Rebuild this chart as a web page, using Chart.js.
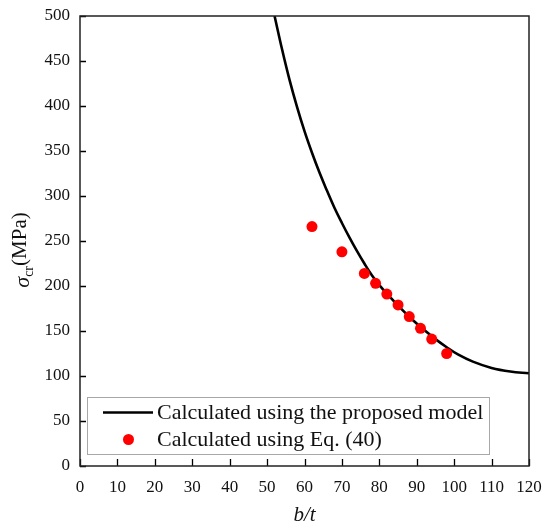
<!DOCTYPE html>
<html>
<head>
<meta charset="utf-8">
<script src="https://cdn.jsdelivr.net/npm/chart.js@4/dist/chart.umd.min.js"></script>
<style>
  html, body { margin: 0; padding: 0; background: #fff; }
  #wrap { width: 544px; height: 531px; position: relative; }
</style>
</head>
<body>
<div id="wrap"><canvas id="c" width="544" height="531"></canvas></div>
<script>
// Curve: "Calculated using the proposed model"
const curveBt    = [52, 54, 56, 58, 60, 62, 64, 66, 68, 70, 72, 74, 76, 78, 80, 83, 86, 89, 92, 95, 98, 101, 105, 110, 115, 120];
const curveSigma = [500, 463, 429, 399, 372, 348, 326, 306, 287, 270, 254, 239, 225, 212, 201, 187, 174, 162, 151, 141, 132, 124, 116, 109, 105, 103];
// Points: "Calculated using Eq. (40)"
const pointBt    = [62, 70, 76, 79, 82, 85, 88, 91, 94, 98];
const pointSigma = [266, 238, 214, 203, 191, 179, 166, 153, 141, 125];
// Axis ticks
const xTicks = [0, 10, 20, 30, 40, 50, 60, 70, 80, 90, 100, 110, 120];
const yTicks = [0, 50, 100, 150, 200, 250, 300, 350, 400, 450, 500];
const legendLabels = ['Calculated using the proposed model', 'Calculated using Eq. (40)'];
const xTitle = 'b/t';

const SERIF = '"Liberation Serif", "Times New Roman", serif';

const framePlugin = {
  id: 'frame',
  afterDraw(chart) {
    const ctx = chart.ctx, a = chart.chartArea;
    const xs = chart.scales.x, ys = chart.scales.y;
    ctx.save();
    // inward ticks
    ctx.strokeStyle = '#000';
    ctx.lineWidth = 1.3;
    ctx.beginPath();
    xTicks.forEach(v => {
      const px = Math.round(xs.getPixelForValue(v)) + 0.5;
      ctx.moveTo(px, a.bottom); ctx.lineTo(px, a.bottom - 7);
    });
    yTicks.forEach(v => {
      const py = Math.round(ys.getPixelForValue(v)) + 0.5;
      ctx.moveTo(a.left, py); ctx.lineTo(a.left + 6, py);
    });
    ctx.stroke();
    // frame
    ctx.lineWidth = 1.5;
    ctx.strokeStyle = '#222';
    ctx.strokeRect(a.left, a.top, a.right - a.left, a.bottom - a.top);

    // legend
    const lx = 87, ly = 397, lw = 402, lh = 57;
    ctx.fillStyle = '#fff';
    ctx.fillRect(lx, ly, lw, lh);
    ctx.strokeStyle = '#a8a8a8';
    ctx.lineWidth = 1;
    ctx.strokeRect(lx + 0.5, ly + 0.5, lw, lh);
    ctx.strokeStyle = '#000';
    ctx.lineWidth = 2.6;
    ctx.beginPath();
    ctx.moveTo(103, 412.5); ctx.lineTo(153, 412.5);
    ctx.stroke();
    ctx.fillStyle = '#ff0000';
    ctx.beginPath();
    ctx.arc(128.5, 439.5, 5.5, 0, Math.PI * 2);
    ctx.fill();
    ctx.fillStyle = '#111';
    ctx.font = '22px ' + SERIF;
    ctx.textBaseline = 'middle';
    ctx.textAlign = 'left';
    ctx.fillText(legendLabels[0], 157, 413);
    ctx.fillText(legendLabels[1], 157, 440);

    // x title
    ctx.font = 'italic 21px ' + SERIF;
    ctx.textAlign = 'center';
    ctx.fillText(xTitle, (a.left + a.right) / 2, 515);

    // y title (rotated) sigma_cr (MPa)
    ctx.translate(22, 250);
    ctx.rotate(-Math.PI / 2);
    ctx.textAlign = 'left';
    ctx.textBaseline = 'alphabetic';
    const sig = 'σ', sub = 'cr', unit = '(MPa)';
    ctx.font = 'italic 22px ' + SERIF;
    const w1 = ctx.measureText(sig).width;
    ctx.font = '14px ' + SERIF;
    const w2 = ctx.measureText(sub).width;
    ctx.font = '21px ' + SERIF;
    const w3 = ctx.measureText(unit).width;
    let x0 = -(w1 + w2 + w3) / 2;
    ctx.font = 'italic 22px ' + SERIF;
    ctx.fillText(sig, x0, 7);
    ctx.font = '14px ' + SERIF;
    ctx.fillText(sub, x0 + w1, 11);
    ctx.font = '21px ' + SERIF;
    ctx.fillText(unit, x0 + w1 + w2, 4);
    ctx.restore();
  }
};

function zeroPad(s) { s.paddingLeft = 0; s.paddingRight = 0; s.paddingTop = 0; s.paddingBottom = 0; }

new Chart(document.getElementById('c'), {
  type: 'scatter',
  data: {
    datasets: [
      {
        type: 'line',
        label: legendLabels[0],
        data: curveBt.map((x, i) => ({ x, y: curveSigma[i] })),
        borderColor: '#000',
        borderWidth: 2.6,
        pointRadius: 0,
        tension: 0.4,
        fill: false,
        order: 2
      },
      {
        label: legendLabels[1],
        data: pointBt.map((x, i) => ({ x, y: pointSigma[i] })),
        backgroundColor: '#ff0000',
        borderColor: '#ff0000',
        borderWidth: 0,
        pointRadius: 5.5,
        order: 1
      }
    ]
  },
  options: {
    responsive: false,
    animation: false,
    devicePixelRatio: 1,
    layout: { padding: { left: 0, top: 16, right: 15, bottom: 0 } },
    plugins: { legend: { display: false }, tooltip: { enabled: false } },
    scales: {
      x: {
        type: 'linear', min: 0, max: 120,
        afterBuildTicks: s => { s.ticks = xTicks.map(v => ({ value: v })); },
        afterFit: s => { s.height = 65; zeroPad(s); },
        grid: { display: false, drawTicks: false },
        border: { display: false },
        ticks: { padding: 11, color: '#111', font: { family: SERIF, size: 17 }, maxRotation: 0, autoSkip: false }
      },
      y: {
        type: 'linear', min: 0, max: 500,
        afterBuildTicks: s => { s.ticks = yTicks.map(v => ({ value: v })); },
        afterFit: s => { s.width = 80; zeroPad(s); },
        grid: { display: false, drawTicks: false },
        border: { display: false },
        ticks: { padding: 10, color: '#111', font: { family: SERIF, size: 17 }, autoSkip: false }
      }
    }
  },
  plugins: [framePlugin]
});
</script>
</body>
</html>
